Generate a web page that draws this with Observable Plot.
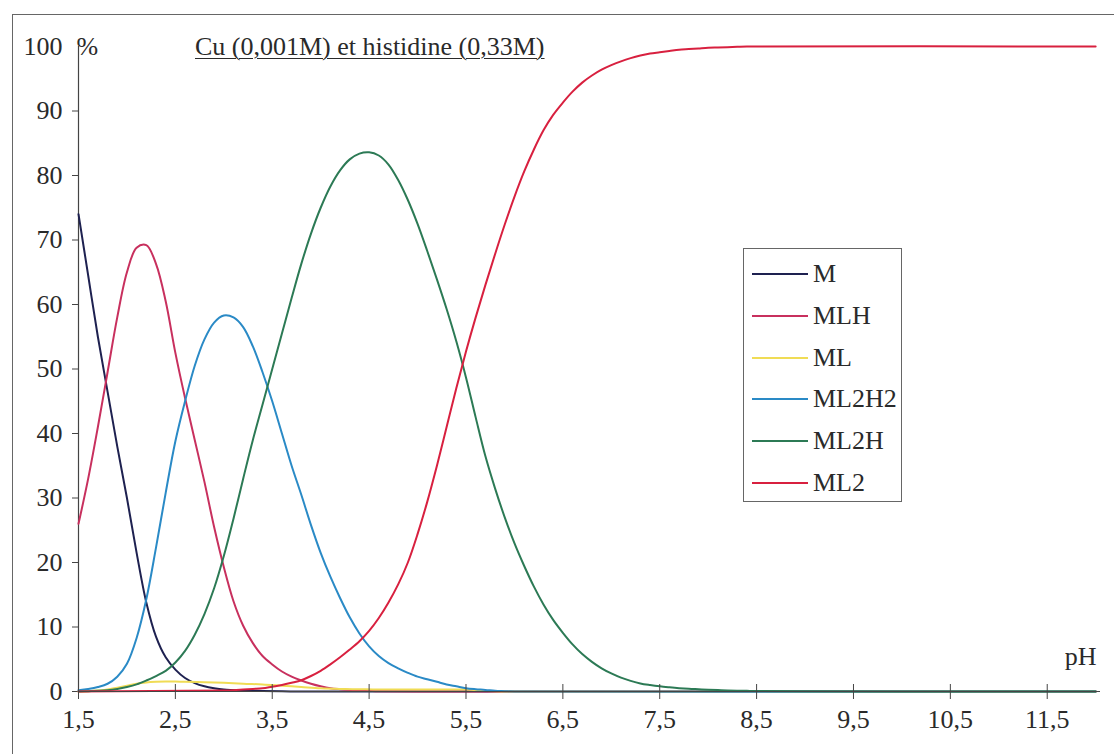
<!DOCTYPE html>
<html>
<head>
<meta charset="utf-8">
<script src="https://cdn.jsdelivr.net/npm/d3@7"></script>
<script src="https://cdn.jsdelivr.net/npm/@observablehq/plot@0.6"></script>
<style>
  html, body { margin: 0; padding: 0; background: #ffffff; }
  body { width: 1114px; height: 754px; overflow: hidden; position: relative; font-family: "Liberation Serif", "DejaVu Serif", serif; color: #2a2a2a; }
  #frame { position: absolute; left: 12px; top: 14px; width: 1200px; height: 800px; border: 1.5px solid #666; box-sizing: border-box; }
  #chart { position: absolute; left: 0; top: 0; }
  #title { position: absolute; left: 195px; top: 32px; font-size: 26px; text-decoration: underline; text-decoration-thickness: 1px; text-underline-offset: 3px; white-space: nowrap; }
  #legend { position: absolute; left: 743px; top: 248px; width: 159px; height: 254px; border: 1px solid #666; box-sizing: border-box; background: #fff; }
  .row { position: absolute; left: 0; height: 30px; display: flex; align-items: center; font-size: 26px; white-space: nowrap; }
  .sw { width: 56px; height: 2px; margin-left: 8px; margin-right: 5px; }
</style>
</head>
<body>
<div id="frame"></div>
<div id="chart"></div>
<div id="title">Cu (0,001M) et histidine (0,33M)</div>
<div id="legend"></div>
<script>
// ---------- data ----------
const seriesNames = ["M", "MLH", "ML", "ML2H2", "ML2H", "ML2"];
const seriesColors = ["#1e2150", "#c8305e", "#f0dc55", "#2a8ac6", "#2c7a55", "#d8203f"];

const xTicks = [1.5, 2.5, 3.5, 4.5, 5.5, 6.5, 7.5, 8.5, 9.5, 10.5, 11.5];
const xTickLabels = ["1,5", "2,5", "3,5", "4,5", "5,5", "6,5", "7,5", "8,5", "9,5", "10,5", "11,5"];
const yTicks = [0, 10, 20, 30, 40, 50, 60, 70, 80, 90];
const yTopTick = [100];

const pH_M = [1.5,1.6,1.7,1.8,1.9,2.0,2.1,2.2,2.3,2.4,2.5,2.6,2.7,2.8,2.9,3.0,3.2,3.4,3.6,3.8,4.0,12.0];
const M    = [74,64.5,55,46.5,38,30,21.5,13.8,8.5,5.3,3.4,2.1,1.3,0.8,0.5,0.3,0.15,0.07,0.03,0.01,0,0];

const pH_MLH = [1.5,1.6,1.7,1.8,1.9,2.0,2.1,2.2,2.3,2.4,2.5,2.6,2.7,2.8,2.9,3.0,3.1,3.2,3.3,3.4,3.5,3.6,3.7,3.8,3.9,4.0,4.1,4.2,4.3,4.4,4.5,4.6,5.0,12.0];
const MLH    = [26,33,41,49.5,58,65,68.8,69.2,66.3,60.5,52.5,45.5,39,32.5,25.5,19.3,14,10.2,7.5,5.5,4.2,3.1,2.3,1.7,1.2,0.8,0.5,0.35,0.25,0.15,0.1,0.05,0,0];

const pH_ML = [1.5,1.6,1.7,1.8,1.9,2.0,2.1,2.2,2.3,2.4,2.5,2.6,2.8,3.0,3.2,3.4,3.6,3.8,4.0,4.2,4.4,4.6,5.0,5.5,5.7,5.9,12.0];
const ML    = [0,0.05,0.15,0.3,0.6,0.9,1.2,1.4,1.5,1.55,1.55,1.5,1.45,1.35,1.2,1.1,0.9,0.7,0.5,0.4,0.35,0.3,0.3,0.3,0.1,0,0];

const pH_ML2H2 = [1.5,1.6,1.7,1.8,1.9,2.0,2.1,2.2,2.3,2.4,2.5,2.6,2.7,2.8,2.9,3.0,3.1,3.2,3.3,3.4,3.5,3.6,3.7,3.8,3.9,4.0,4.1,4.2,4.3,4.4,4.5,4.6,4.7,4.8,4.9,5.0,5.1,5.2,5.3,5.4,5.5,5.6,5.7,5.8,5.9,6.0,12.0];
const ML2H2    = [0.2,0.4,0.7,1.2,2.3,4.3,8.3,14.3,22.3,30.8,38.8,45,50.5,54.6,57.2,58.3,58,56.5,53.5,49.5,45,40,35,30.5,25.8,21.5,17.8,14.5,11.5,9,7,5.5,4.4,3.6,2.9,2.3,1.9,1.5,1.1,0.8,0.5,0.35,0.25,0.1,0.05,0,0];

const pH_ML2H = [1.5,1.6,1.7,1.8,1.9,2.0,2.1,2.2,2.3,2.4,2.5,2.6,2.7,2.8,2.9,3.0,3.1,3.2,3.3,3.4,3.5,3.6,3.7,3.8,3.9,4.0,4.1,4.2,4.3,4.4,4.5,4.6,4.7,4.8,4.9,5.0,5.1,5.2,5.3,5.4,5.5,5.6,5.7,5.8,5.9,6.0,6.1,6.2,6.3,6.4,6.5,6.6,6.7,6.8,6.9,7.0,7.1,7.2,7.3,7.4,7.5,7.6,7.7,7.8,7.9,8.0,8.1,8.2,8.3,8.4,8.5,9.0,10.0,12.0];
const ML2H    = [0,0.05,0.1,0.2,0.4,0.7,1.1,1.7,2.4,3.2,4.5,6.3,8.8,12,16,21,26.8,33,39,44.5,50,55.5,61,66.3,71,75,78.3,80.8,82.5,83.4,83.6,83.1,81.7,79.3,76.2,72.5,68.3,63.9,59.3,54.3,48.7,42.5,36.5,31.5,27,23,19.5,16.3,13.5,11.1,9.1,7.3,5.8,4.6,3.6,2.8,2.15,1.65,1.25,1.0,0.8,0.65,0.52,0.42,0.35,0.28,0.22,0.17,0.13,0.1,0.08,0.03,0,0];

const pH_ML2 = [1.5,3.0,3.1,3.2,3.3,3.4,3.5,3.6,3.7,3.8,3.9,4.0,4.1,4.2,4.3,4.4,4.5,4.6,4.7,4.8,4.9,5.0,5.1,5.2,5.3,5.4,5.5,5.6,5.7,5.8,5.9,6.0,6.1,6.2,6.3,6.4,6.5,6.6,6.7,6.8,6.9,7.0,7.1,7.2,7.3,7.4,7.5,7.6,7.7,7.8,7.9,8.0,8.1,8.2,8.3,8.4,12.0];
const ML2    = [0,0.15,0.2,0.3,0.4,0.5,0.75,1.0,1.35,1.75,2.4,3.2,4.2,5.3,6.5,7.8,9.4,11.4,13.8,16.6,20,24.4,29.4,35,41,47,52.7,58,63,67.8,72.4,76.7,80.6,84,87,89.4,91.3,93,94.4,95.5,96.4,97.1,97.7,98.2,98.6,98.9,99.1,99.3,99.5,99.6,99.7,99.8,99.85,99.9,99.95,100,100];

// ---------- table ----------
const seriesData = [[pH_M, M], [pH_MLH, MLH], [pH_ML, ML], [pH_ML2H2, ML2H2], [pH_ML2H, ML2H], [pH_ML2, ML2]];
const rows = [];
seriesData.forEach(([xs, ys], k) => {
  xs.forEach((x, i) => rows.push({pH: x, v: ys[i], s: seriesNames[k]}));
});

const fontFamily = '"Liberation Serif", "DejaVu Serif", serif';

const chart = Plot.plot({
  width: 1114,
  height: 754,
  marginLeft: 78,
  marginRight: 14,
  marginTop: 46,
  marginBottom: 63,
  x: {domain: [1.5, 12.05]},
  y: {domain: [0, 100]},
  color: {domain: seriesNames, range: seriesColors},
  style: {fontFamily, fontSize: "26px", color: "#2a2a2a", background: "transparent"},
  marks: [
    Plot.ruleX([1.5], {stroke: "#444", strokeWidth: 1.2}),
    Plot.axisY({ticks: yTicks, tickSize: 6, tickPadding: 10, label: null, fontSize: 26, stroke: "#444"}),
    Plot.axisY({ticks: yTopTick, tickSize: 0, tickPadding: 16, label: null, fontSize: 26}),
    Plot.text(["%"], {frameAnchor: "top-left", textAnchor: "start", lineAnchor: "middle", dx: -2, fontSize: 26, fill: "#2a2a2a"}),
    Plot.line(rows, {x: "pH", y: "v", z: "s", stroke: "s", strokeWidth: 2, curve: "catmull-rom"}),
    Plot.ruleY([0], {stroke: "#444", strokeWidth: 1.2}),
    Plot.axisX({ticks: xTicks, tickFormat: (d) => xTickLabels[xTicks.indexOf(d)], tickSize: 8, tickPadding: 10, label: null, fontSize: 26, stroke: "#444"}),
    Plot.axisX({ticks: xTicks, tickFormat: () => "", tickSize: -7, label: null, stroke: "#444"}),
    Plot.text(["pH"], {frameAnchor: "bottom-right", textAnchor: "end", dx: -4, dy: -27, fontSize: 26, fill: "#2a2a2a"})
  ]
});
document.getElementById("chart").appendChild(chart);

// ---------- legend ----------
const legend = document.getElementById("legend");
const rowTops = [10, 52, 94, 135, 177, 219];
seriesNames.forEach((name, i) => {
  const r = document.createElement("div");
  r.className = "row";
  r.style.top = rowTops[i] + "px";
  const sw = document.createElement("span");
  sw.className = "sw";
  sw.style.background = seriesColors[i];
  const t = document.createElement("span");
  t.textContent = name;
  r.appendChild(sw);
  r.appendChild(t);
  legend.appendChild(r);
});
</script>
</body>
</html>
